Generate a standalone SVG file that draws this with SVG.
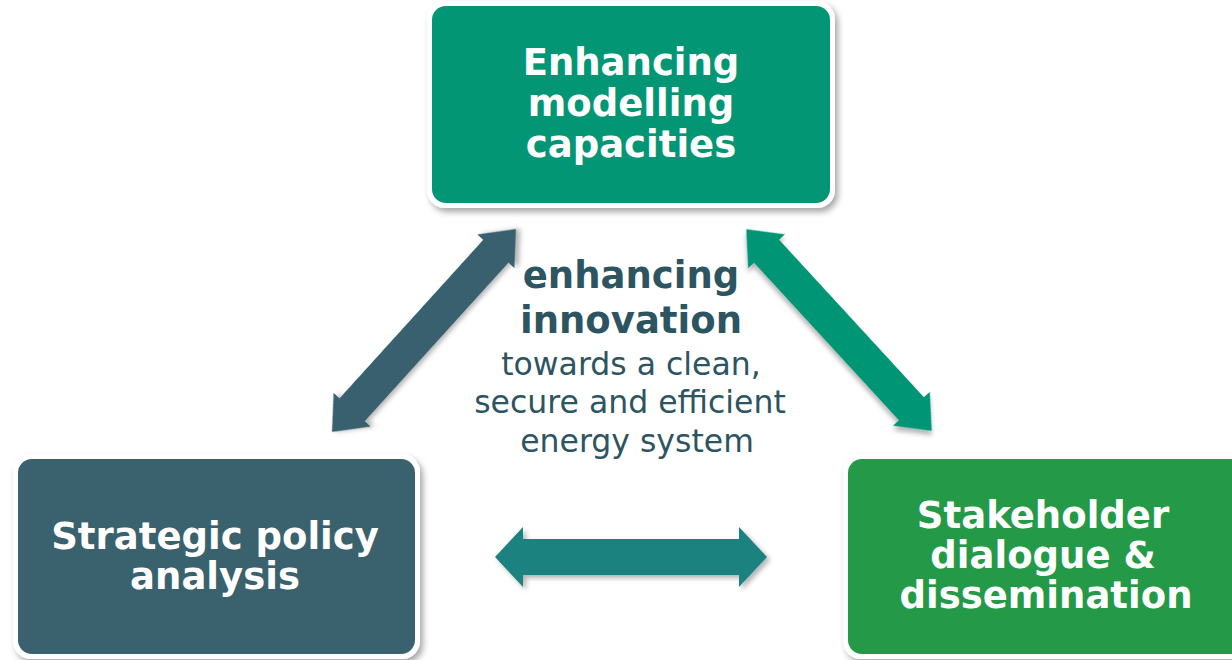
<svg xmlns="http://www.w3.org/2000/svg" width="1232" height="660" viewBox="0 0 1232 660">
  <defs>
    <filter id="shadow" x="-10%" y="-10%" width="125%" height="130%">
      <feDropShadow dx="3" dy="4" stdDeviation="3" flood-color="#000" flood-opacity="0.35"/>
    </filter>
    <filter id="ashadow" x="-20%" y="-20%" width="140%" height="140%">
      <feDropShadow dx="3" dy="3" stdDeviation="2.5" flood-color="#000" flood-opacity="0.3"/>
    </filter>
  </defs>
  <style>
    .frame { fill: #ffffff; }
    .label { font-family: "DejaVu Sans", Verdana, sans-serif; font-weight: bold; font-size: 37px; fill: #ffffff; text-anchor: middle; }
    .center-b { font-family: "DejaVu Sans", Verdana, sans-serif; font-weight: bold; font-size: 37px; fill: #2d5561; text-anchor: middle; }
    .center-r { font-family: "DejaVu Sans", Verdana, sans-serif; font-size: 31.5px; fill: #2d5561; text-anchor: middle; }
  </style>
  <rect width="1232" height="660" fill="#ffffff"/>

  <g id="connectors">
    <path id="arrow-left" filter="url(#ashadow)" fill="#39616e" transform="translate(424,330.5) rotate(-47.8)" d="M-137,0 L-107,-25 L-107,-17 L107,-17 L107,-25 L137,0 L107,25 L107,17 L-107,17 L-107,25 Z"/>
    <path id="arrow-right" filter="url(#ashadow)" fill="#039675" transform="translate(839,330) rotate(47.4)" d="M-137,0 L-107,-25 L-107,-17 L107,-17 L107,-25 L137,0 L107,25 L107,17 L-107,17 L-107,25 Z"/>
    <path id="arrow-bottom" filter="url(#ashadow)" fill="#1c8280" transform="translate(631,557)" d="M-136,0 L-108,-30 L-108,-18 L108,-18 L108,-30 L136,0 L108,30 L108,18 L-108,18 L-108,30 Z"/>
  </g>

  <g id="node-modelling">
    <rect class="frame" filter="url(#shadow)" x="427" y="1" width="408" height="207" rx="18"/>
    <rect x="432" y="6" width="398" height="197" rx="14" fill="#039675"/>
    <text class="label" x="631" y="75">Enhancing</text>
    <text class="label" x="631" y="116">modelling</text>
    <text class="label" x="631" y="157">capacities</text>
  </g>

  <g id="node-policy">
    <rect class="frame" filter="url(#shadow)" x="13" y="454" width="407" height="205" rx="18"/>
    <rect x="18" y="459" width="397" height="195" rx="14" fill="#39616e"/>
    <text class="label" x="215" y="549">Strategic policy</text>
    <text class="label" x="215" y="589">analysis</text>
  </g>

  <g id="node-stakeholder">
    <rect class="frame" filter="url(#shadow)" x="843" y="454" width="410" height="205" rx="18"/>
    <rect x="848" y="459" width="400" height="195" rx="14" fill="#249a48"/>
    <text class="label" x="1043" y="528">Stakeholder</text>
    <text class="label" x="1043" y="568">dialogue &amp;</text>
    <text class="label" x="1046" y="608">dissemination</text>
  </g>

  <g id="node-center">
    <text class="center-b" x="631" y="288">enhancing</text>
    <text class="center-b" x="631" y="333">innovation</text>
    <text class="center-r" x="631" y="375">towards a clean,</text>
    <text class="center-r" x="630" y="413">secure and efficient</text>
    <text class="center-r" x="637" y="452">energy system</text>
  </g>
</svg>
